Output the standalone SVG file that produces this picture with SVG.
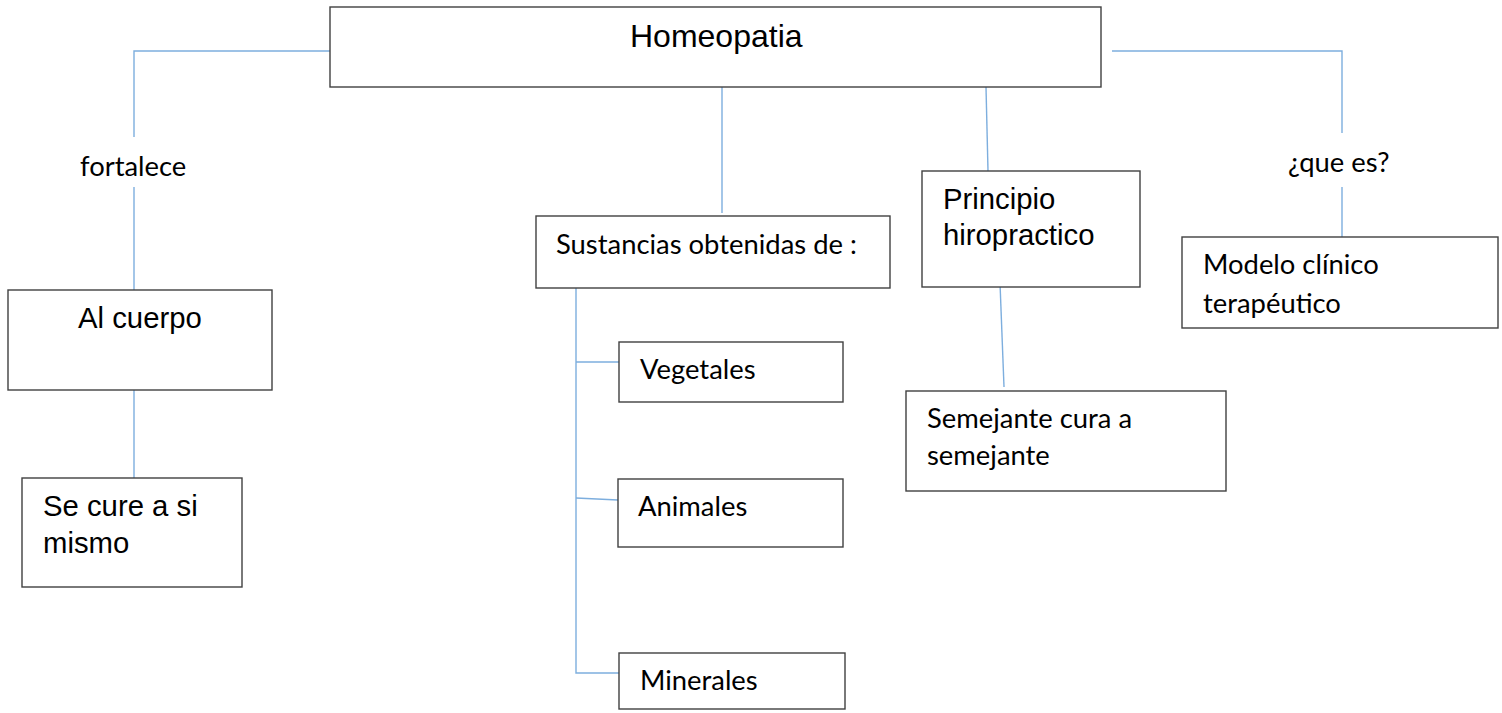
<svg xmlns="http://www.w3.org/2000/svg" width="1502" height="713" viewBox="0 0 1502 713">
<style>
.box{fill:#fff;stroke:#404040;stroke-width:1.4}
.ln{fill:none;stroke:#7DAEDE;stroke-width:1.4}
.a{font-family:"Liberation Sans",Arial,sans-serif;font-size:29.3px;fill:#000}
.c{font-family:Lato,"Open Sans",sans-serif;font-size:27.4px;fill:#000}
</style>
<rect width="1502" height="713" fill="#fff"/>
<g id="connectors">
<polyline class="ln" points="330,51 134,51 134,137"/>
<line class="ln" x1="134" y1="187" x2="134" y2="290"/>
<line class="ln" x1="134" y1="390" x2="134" y2="478"/>
<line class="ln" x1="722" y1="87" x2="722" y2="213"/>
<line class="ln" x1="986" y1="87" x2="988" y2="171"/>
<line class="ln" x1="1000" y1="283" x2="1004" y2="387"/>
<polyline class="ln" points="1112,51 1342,51 1342,133"/>
<line class="ln" x1="1342" y1="187" x2="1342" y2="237"/>
<polyline class="ln" points="576,288 576,673 619,673"/>
<line class="ln" x1="576" y1="362" x2="619" y2="362"/>
<line class="ln" x1="576" y1="498" x2="618" y2="500"/>
<text class="c" x="80" y="176">fortalece</text>
<text class="c" x="1288" y="172">¿que es?</text>
</g>
<g id="homeopatia">
<rect class="box" x="330" y="7" width="771" height="80"/>
<text class="a" x="630" y="47" style="font-size:32px">Homeopatia</text>
</g>
<g id="al-cuerpo">
<rect class="box" x="8" y="290" width="264" height="100"/>
<text class="a" x="78" y="328">Al cuerpo</text>
</g>
<g id="se-cure">
<rect class="box" x="22" y="478" width="220" height="109"/>
<text class="a" x="43" y="516">Se cure a si</text>
<text class="a" x="43" y="553">mismo</text>
</g>
<g id="sustancias">
<rect class="box" x="536" y="216" width="354" height="72"/>
<text class="c" x="556" y="254">Sustancias obtenidas de :</text>
</g>
<g id="vegetales">
<rect class="box" x="619" y="342" width="224" height="60"/>
<text class="c" x="640" y="379">Vegetales</text>
</g>
<g id="animales">
<rect class="box" x="618" y="479" width="225" height="68"/>
<text class="c" x="638" y="516">Animales</text>
</g>
<g id="minerales">
<rect class="box" x="619" y="653" width="226" height="56"/>
<text class="c" x="640" y="690">Minerales</text>
</g>
<g id="principio">
<rect class="box" x="922" y="171" width="218" height="116"/>
<text class="a" x="943" y="209">Principio</text>
<text class="a" x="943" y="245">hiropractico</text>
</g>
<g id="semejante">
<rect class="box" x="906" y="391" width="320" height="100"/>
<text class="c" x="927" y="428">Semejante cura a</text>
<text class="c" x="927" y="465">semejante</text>
</g>
<g id="modelo">
<rect class="box" x="1182" y="237" width="316" height="91"/>
<text class="c" x="1203" y="274">Modelo clínico</text>
<text class="c" x="1203" y="313">terapéutico</text>
</g>
</svg>
